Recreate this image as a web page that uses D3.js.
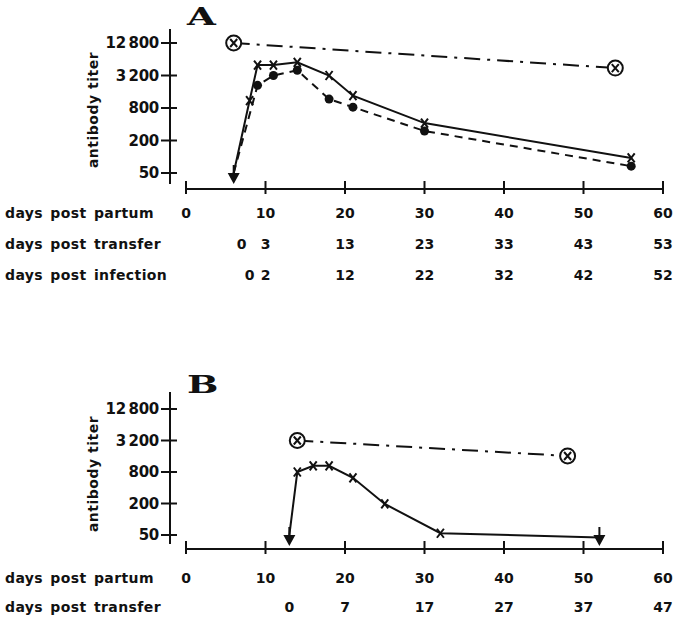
<!DOCTYPE html>
<html>
<head>
<meta charset="utf-8">
<script src="https://cdn.jsdelivr.net/npm/d3@7"></script>
<style>
  body { margin: 0; background: #fff; }
  text { font-family: "DejaVu Sans", sans-serif; font-weight: bold; fill: #111; }
</style>
</head>
<body>
<div class="fig"></div>
<script>
// axis ticks
var partumTicks = [0, 10, 20, 30, 40, 50, 60];
var titerTicks = [50, 200, 800, 3200, 12800];

// second / third x label rows (label text, and the partum day it sits under)
var aTransferLabels = [0, 3, 13, 23, 33, 43, 53];
var aTransferAt = [7, 10, 20, 30, 40, 50, 60];
var aInfectionLabels = [0, 2, 12, 22, 32, 42, 52];
var aInfectionAt = [8, 10, 20, 30, 40, 50, 60];
var bTransferLabels = [0, 7, 17, 27, 37, 47];
var bTransferAt = [13, 20, 30, 40, 50, 60];

// panel A series (days post partum, titer)
var aSolidDays = [6, 8, 9, 11, 14, 18, 21, 30, 56];
var aSolidTiters = [50, 1100, 5000, 5000, 5600, 3200, 1350, 420, 95];
var aDashDays = [6, 9, 11, 14, 18, 21, 30, 56];
var aDashTiters = [50, 2100, 3200, 4000, 1170, 830, 300, 67];
var aMotherDays = [6, 54];
var aMotherTiters = [12800, 4400];
var aArrowDays = [6];

// panel B series
var bSolidDays = [13, 14, 16, 18, 21, 25, 32, 52];
var bSolidTiters = [50, 800, 1050, 1050, 620, 196, 54, 45];
var bMotherDays = [14, 48];
var bMotherTiters = [3200, 1620];
var bArrowDays = [13, 52];

var width = 677, height = 621;

var svg = d3.select(".fig").append("svg")
    .attr("width", width)
    .attr("height", height);

function zip(xs, ys) { return xs.map(function(d, i) { return [d, ys[i]]; }); }

function fmtTiter(d) {
  var s = String(d);
  return s.length > 3 ? s.slice(0, s.length - 3) + "\u2009" + s.slice(-3) : s;
}

function drawPanel(p) {
  var g = svg.append("g");

  var x = d3.scaleLinear().domain([0, 60]).range([186, 663]);
  var y = d3.scaleLog().base(2).domain([50, 12800]).range([p.y50, p.y12800]);

  // panel letter
  g.append("text")
      .attr("transform", "translate(187," + p.letterY + ") scale(1.55,1)")
      .style("font-family", "DejaVu Serif")
      .style("font-size", "24px")
      .text(p.letter);

  // y axis
  g.append("line")
      .attr("x1", 170).attr("x2", 170)
      .attr("y1", p.yTop).attr("y2", p.axisY - 5)
      .attr("stroke", "#111").attr("stroke-width", 2);

  var yt = g.selectAll(".ytick").data(titerTicks).enter().append("g")
      .attr("transform", function(d) { return "translate(0," + y(d) + ")"; });
  yt.append("line")
      .attr("x1", 161).attr("x2", 177)
      .attr("stroke", "#111").attr("stroke-width", 2);
  yt.append("text")
      .attr("x", 159).attr("dy", "0.36em")
      .attr("text-anchor", "end")
      .style("font-size", "15px")
      .style("letter-spacing", "-0.3px")
      .text(fmtTiter);

  g.append("text")
      .attr("transform", "translate(98," + ((p.y50 + p.y12800) / 2 + 2) + ") rotate(-90)")
      .attr("text-anchor", "middle")
      .style("font-size", "14px")
      .style("letter-spacing", "0.5px")
      .text("antibody titer");

  // x axis
  g.append("line")
      .attr("x1", x(0)).attr("x2", x(60))
      .attr("y1", p.axisY).attr("y2", p.axisY)
      .attr("stroke", "#111").attr("stroke-width", 2);
  g.selectAll(".xtick").data(partumTicks).enter().append("line")
      .attr("x1", function(d) { return x(d); })
      .attr("x2", function(d) { return x(d); })
      .attr("y1", p.axisY - 8).attr("y2", p.axisY + 5)
      .attr("stroke", "#111").attr("stroke-width", 2);

  // label rows
  p.rows.forEach(function(r) {
    g.append("text")
        .attr("x", 5).attr("y", r.y)
        .style("font-size", "14px")
        .style("letter-spacing", "0.4px")
        .style("word-spacing", "2px")
        .text(r.name);
    g.selectAll(null).data(r.labels).enter().append("text")
        .attr("x", function(d, i) { return x(r.at[i]); })
        .attr("y", r.y)
        .attr("text-anchor", "middle")
        .style("font-size", "14px")
        .text(function(d) { return d; });
  });

  var line = d3.line()
      .x(function(d) { return x(d[0]); })
      .y(function(d) { return y(d[1]); });

  // maternal (dash-dot) line, circled crosses
  var mom = zip(p.motherDays, p.motherTiters);
  g.append("path")
      .attr("d", line(mom))
      .attr("fill", "none").attr("stroke", "#111").attr("stroke-width", 2)
      .attr("stroke-dasharray", "16,7,3,7");
  var mg = g.selectAll(".mom").data(mom).enter().append("g")
      .attr("transform", function(d) { return "translate(" + x(d[0]) + "," + y(d[1]) + ")"; });
  mg.append("circle").attr("r", 7.5)
      .attr("fill", "#fff").attr("stroke", "#111").attr("stroke-width", 2);
  mg.append("path").attr("d", "M-3.5,-4L3.5,4M3.5,-4L-3.5,4")
      .attr("stroke", "#111").attr("stroke-width", 2);

  // dashed series with dots
  if (p.dashDays) {
    var dd = zip(p.dashDays, p.dashTiters);
    g.append("path")
        .attr("d", line(dd))
        .attr("fill", "none").attr("stroke", "#111").attr("stroke-width", 2)
        .attr("stroke-dasharray", "8,6");
    g.selectAll(".dot").data(dd.slice(1)).enter().append("circle")
        .attr("cx", function(d) { return x(d[0]); })
        .attr("cy", function(d) { return y(d[1]); })
        .attr("r", 4.5).attr("fill", "#111");
  }

  // solid series with crosses
  var sd = zip(p.solidDays, p.solidTiters);
  g.append("path")
      .attr("d", line(sd))
      .attr("fill", "none").attr("stroke", "#111").attr("stroke-width", 2);
  g.selectAll(".cross").data(sd.filter(function(d) { return p.arrowDays.indexOf(d[0]) < 0; }))
    .enter().append("path")
      .attr("transform", function(d) { return "translate(" + x(d[0]) + "," + y(d[1]) + ")"; })
      .attr("d", "M-3.5,-4.5L3.5,4.5M3.5,-4.5L-3.5,4.5")
      .attr("fill", "none").attr("stroke", "#111").attr("stroke-width", 2);

  // arrows (titer below 50)
  g.selectAll(".arrow").data(p.arrowDays).enter().append("path")
      .attr("transform", function(d) { return "translate(" + x(d) + "," + y(50) + ")"; })
      .attr("d", "M-1,-8L1,-8L1,0L6,0L0,11L-6,0L-1,0Z")
      .attr("fill", "#111");
}

drawPanel({
  letter: "A", letterY: 25,
  y12800: 43, y50: 173, yTop: 29, axisY: 189,
  solidDays: aSolidDays, solidTiters: aSolidTiters,
  dashDays: aDashDays, dashTiters: aDashTiters,
  motherDays: aMotherDays, motherTiters: aMotherTiters,
  arrowDays: aArrowDays,
  rows: [
    { name: "days post partum", labels: partumTicks, at: partumTicks, y: 218 },
    { name: "days post transfer", labels: aTransferLabels, at: aTransferAt, y: 249 },
    { name: "days post infection", labels: aInfectionLabels, at: aInfectionAt, y: 280 }
  ]
});

drawPanel({
  letter: "B", letterY: 393,
  y12800: 409, y50: 535, yTop: 392, axisY: 549,
  solidDays: bSolidDays, solidTiters: bSolidTiters,
  motherDays: bMotherDays, motherTiters: bMotherTiters,
  arrowDays: bArrowDays,
  rows: [
    { name: "days post partum", labels: partumTicks, at: partumTicks, y: 583 },
    { name: "days post transfer", labels: bTransferLabels, at: bTransferAt, y: 612 }
  ]
});
</script>
</body>
</html>
